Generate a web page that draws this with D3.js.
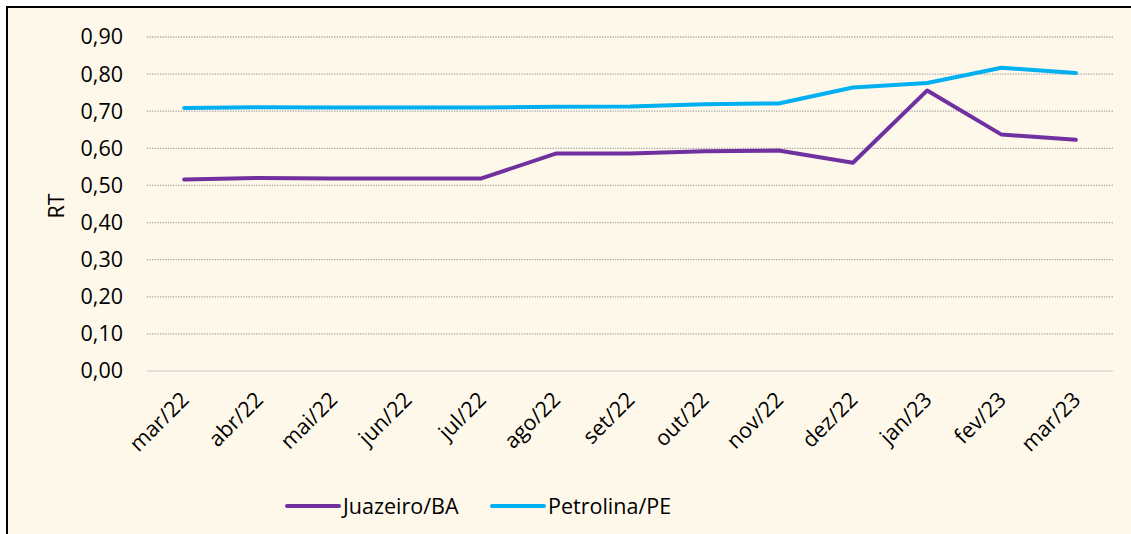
<!DOCTYPE html>
<html>
<head>
<meta charset="utf-8">
<script src="https://cdn.jsdelivr.net/npm/d3@7"></script>
<style>
  body { margin: 0; background: #fff; }
  #chart text { font-family: "Open Sans", sans-serif; fill: #000; }
</style>
</head>
<body>
<div id="chart"></div>
<script>
// Data
const months = ["mar/22", "abr/22", "mai/22", "jun/22", "jul/22", "ago/22", "set/22",
  "out/22", "nov/22", "dez/22", "jan/23", "fev/23", "mar/23"];
const juazeiro = [0.516, 0.520, 0.519, 0.519, 0.519, 0.586, 0.586, 0.592, 0.594, 0.561, 0.756, 0.637, 0.623];
const petrolina = [0.709, 0.711, 0.710, 0.710, 0.710, 0.712, 0.713, 0.719, 0.721, 0.764, 0.776, 0.817, 0.803];
const yTicks = [0, 0.1, 0.2, 0.3, 0.4, 0.5, 0.6, 0.7, 0.8, 0.9];
const seriesNames = ["Juazeiro/BA", "Petrolina/PE"];
const seriesColors = ["#7030A0", "#00B0F0"];

const W = 1131, H = 534;
const margin = { top: 37, right: 18, bottom: 163, left: 147 },
  width = W - margin.left - margin.right,
  height = H - margin.top - margin.bottom;
const fontSize = "21.5px";

const svgRoot = d3.select("#chart").append("svg")
  .attr("width", W).attr("height", H);

// chart background + border
svgRoot.append("rect")
  .attr("x", 7).attr("y", 7)
  .attr("width", W + 10).attr("height", H + 10)
  .attr("fill", "#FEF8EA")
  .attr("stroke", "#000").attr("stroke-width", 2);

const svg = svgRoot.append("g")
  .attr("transform", `translate(${margin.left},${margin.top})`);

const x = d3.scaleBand().domain(months).range([0, width]);
const y = d3.scaleLinear().domain([0, 0.9]).range([height, 0]);
const fmt = d => d3.format(".2f")(d).replace(".", ",");

// gridlines
svg.append("g")
  .selectAll("line")
  .data(yTicks.filter(d => d > 0))
  .enter().append("line")
  .attr("x1", 0).attr("x2", width)
  .attr("y1", d => y(d)).attr("y2", d => y(d))
  .attr("stroke", "#a6a6a6")
  .attr("stroke-width", 1.3)
  .attr("stroke-dasharray", "1.3,1.3");

// baseline
svg.append("line")
  .attr("x1", 0).attr("x2", width)
  .attr("y1", y(0)).attr("y2", y(0))
  .attr("stroke", "#d9d9d9").attr("stroke-width", 1.5);

// y axis labels
const yAxis = svg.append("g")
  .call(d3.axisLeft(y).tickValues(yTicks).tickFormat(fmt).tickSize(0).tickPadding(24));
yAxis.select(".domain").remove();
yAxis.selectAll("text").style("font-size", fontSize);

// x axis labels
const xAxis = svg.append("g")
  .attr("transform", `translate(0,${height})`)
  .call(d3.axisBottom(x).tickSize(0).tickPadding(0));
xAxis.select(".domain").remove();
xAxis.selectAll("text")
  .style("font-size", fontSize)
  .attr("text-anchor", "end")
  .attr("dy", 0)
  .attr("transform", "translate(6,30) rotate(-45)");

// y axis title
svg.append("text")
  .attr("transform", `translate(-89,${height / 2 + 2}) rotate(-90)`)
  .attr("text-anchor", "middle")
  .attr("dominant-baseline", "middle")
  .style("font-size", fontSize)
  .text("RT");

// lines
const line = d3.line()
  .x((d, i) => x(months[i]) + x.bandwidth() / 2)
  .y(d => y(d));

[juazeiro, petrolina].forEach((vals, k) => {
  svg.append("path")
    .datum(vals)
    .attr("fill", "none")
    .attr("stroke", seriesColors[k])
    .attr("stroke-width", 4)
    .attr("stroke-linejoin", "round")
    .attr("stroke-linecap", "round")
    .attr("d", line);
});

// legend
const legend = svgRoot.append("g").attr("transform", "translate(287,506)");
const legendX = [0, 205];
seriesNames.forEach((name, k) => {
  const g = legend.append("g").attr("transform", `translate(${legendX[k]},0)`);
  g.append("line")
    .attr("x1", 0).attr("x2", 52)
    .attr("stroke", seriesColors[k]).attr("stroke-width", 4)
    .attr("stroke-linecap", "round");
  g.append("text")
    .attr("x", 56).attr("dy", "0.35em")
    .style("font-size", fontSize)
    .text(name);
});
</script>
</body>
</html>
